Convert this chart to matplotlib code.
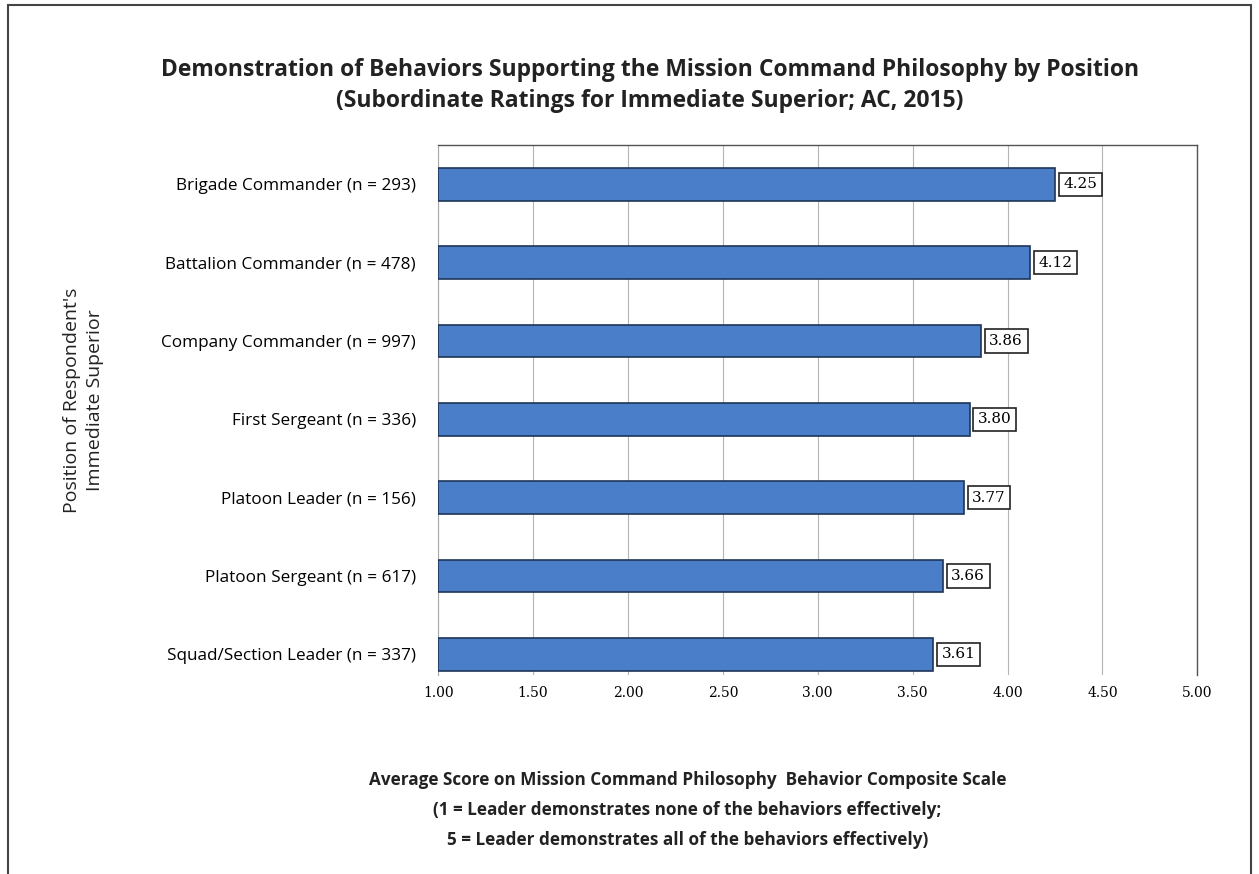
import matplotlib.pyplot as plt
from matplotlib.patches import Rectangle

positions = ['Brigade Commander (n = 293)', 'Battalion Commander (n = 478)',
             'Company Commander (n = 997)', 'First Sergeant (n = 336)',
             'Platoon Leader (n = 156)', 'Platoon Sergeant (n = 617)',
             'Squad/Section Leader (n = 337)']
scores = [4.25, 4.12, 3.86, 3.80, 3.77, 3.66, 3.61]
xticks = [1.00, 1.50, 2.00, 2.50, 3.00, 3.50, 4.00, 4.50, 5.00]

plt.rcParams['font.family'] = ['Open Sans', 'DejaVu Sans']

fig = plt.figure(figsize=(12.59, 8.74), dpi=100)
ax = fig.add_axes([0.348, 0.228, 0.603, 0.606])

y = list(range(len(positions)))
ax.barh(y, [s - 1 for s in scores], left=1, height=0.42,
        color='#4a7ec9', edgecolor='#1e3558', linewidth=1.2, zorder=3)

for yi, s in zip(y, scores):
    ax.annotate('%.2f' % s, (s, yi), xytext=(6, 0), textcoords='offset points',
                ha='left', va='center', fontsize=11, family='DejaVu Serif',
                bbox=dict(boxstyle='square,pad=0.3', fc='white', ec='#222222', lw=1.2),
                zorder=4)

ax.set_xlim(1, 5)
ax.set_ylim(6.26, -0.5)
ax.set_xticks(xticks)
ax.set_xticklabels(['%.2f' % t for t in xticks], fontsize=10, family='DejaVu Serif')
ax.set_yticks(y)
ax.set_yticklabels(positions, fontsize=12.3)
ax.tick_params(axis='x', length=0, pad=8)
ax.tick_params(axis='y', length=0, pad=16)
ax.grid(axis='x', color='#b5b5b5', linewidth=0.8, zorder=0)

for side in ['top', 'right']:
    ax.spines[side].set_color('#555555')
    ax.spines[side].set_linewidth(1.0)
ax.spines['left'].set_color('#aaaaaa')
ax.spines['bottom'].set_visible(False)

fig.text(0.516, 0.92, 'Demonstration of Behaviors Supporting the Mission Command Philosophy by Position',
         ha='center', va='center', fontsize=16.5, fontweight='bold', color='#222222')
fig.text(0.516, 0.885, '(Subordinate Ratings for Immediate Superior; AC, 2015)',
         ha='center', va='center', fontsize=16.5, fontweight='bold', color='#222222')

fig.text(0.066, 0.542, "Position of Respondent's\nImmediate Superior", rotation=90,
         ha='center', va='center', fontsize=14, color='#222222', linespacing=1.35)

fig.text(0.546, 0.073, 'Average Score on Mission Command Philosophy  Behavior Composite Scale\n'
         '(1 = Leader demonstrates none of the behaviors effectively;\n'
         '5 = Leader demonstrates all of the behaviors effectively)',
         ha='center', va='center', fontsize=12.3, fontweight='bold', color='#222222',
         linespacing=1.85)

fig.patches.append(Rectangle((0.006, -0.01), 0.988, 1.004, transform=fig.transFigure,
                             fill=False, ec='#444444', lw=1.5))

fig.savefig('out.png', dpi=100)
